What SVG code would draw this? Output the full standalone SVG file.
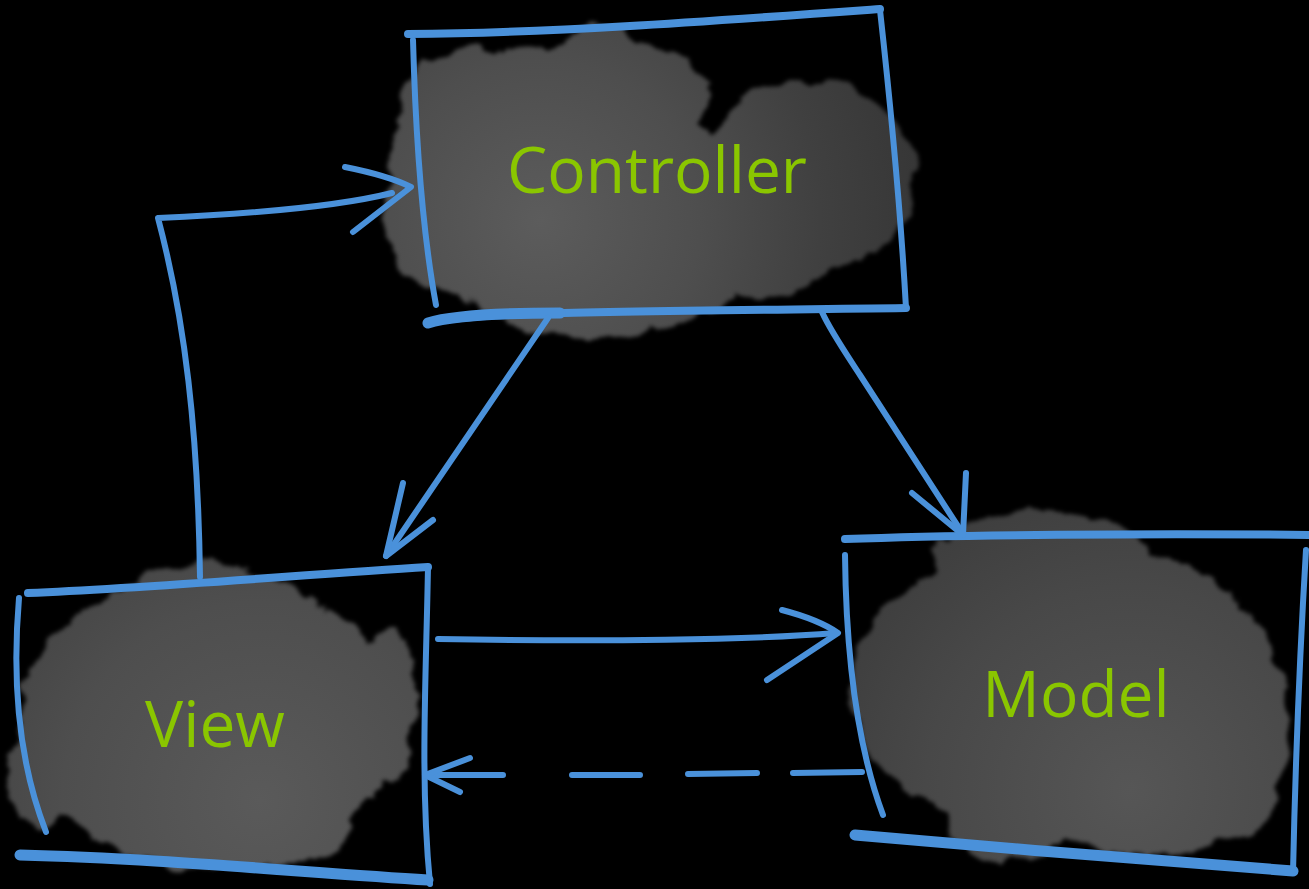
<svg xmlns="http://www.w3.org/2000/svg" width="1309" height="889" viewBox="0 0 1309 889">
  <defs>
    <style>
      .ink { fill: none; stroke: #4a91da; stroke-linecap: round; stroke-linejoin: round; }
      .thin { stroke-width: 6; }
      .mid { stroke-width: 8; }
      .thick { stroke-width: 11; }
      .label { font-family: "Open Sans", "Noto Sans", "Liberation Sans", sans-serif; font-size: 64px; fill: #8ac600; text-anchor: middle; }
      .puff { fill: #fff; }
    </style>
    <!-- ragged, watercolour-like edge for the cloud blobs -->
    <filter id="rough" x="-10%" y="-15%" width="120%" height="130%">
      <feTurbulence type="fractalNoise" baseFrequency="0.035" numOctaves="4" seed="7" result="noise"/>
      <feDisplacementMap in="SourceGraphic" in2="noise" scale="22" xChannelSelector="R" yChannelSelector="G" result="disp"/>
      <feGaussianBlur in="disp" stdDeviation="2.2"/>
    </filter>
    <radialGradient id="gCtrl" gradientUnits="userSpaceOnUse" cx="540" cy="220" r="400">
      <stop offset="0" stop-color="#5c5c5c"/>
      <stop offset="0.4" stop-color="#4e4e4e"/>
      <stop offset="0.7" stop-color="#404040"/>
      <stop offset="1" stop-color="#353535"/>
    </radialGradient>
    <radialGradient id="gView" gradientUnits="userSpaceOnUse" cx="260" cy="800" r="330">
      <stop offset="0" stop-color="#5a5a5a"/>
      <stop offset="0.6" stop-color="#4e4e4e"/>
      <stop offset="1" stop-color="#414141"/>
    </radialGradient>
    <radialGradient id="gModel" gradientUnits="userSpaceOnUse" cx="1130" cy="790" r="340">
      <stop offset="0" stop-color="#565656"/>
      <stop offset="0.6" stop-color="#484848"/>
      <stop offset="1" stop-color="#3c3c3c"/>
    </radialGradient>

    <mask id="mCtrl" maskUnits="userSpaceOnUse" x="340" y="0" width="620" height="380">
      <g filter="url(#rough)" class="puff">
        <ellipse cx="555" cy="185" rx="165" ry="140"/>
        <ellipse cx="620" cy="95" rx="90" ry="55"/>
        <ellipse cx="600" cy="70" rx="45" ry="45"/>
        <ellipse cx="470" cy="105" rx="70" ry="55"/>
        <ellipse cx="600" cy="290" rx="130" ry="45"/>
        <ellipse cx="425" cy="200" rx="40" ry="90"/>
        <ellipse cx="810" cy="175" rx="105" ry="95"/>
        <ellipse cx="760" cy="255" rx="75" ry="42"/>
        <ellipse cx="712" cy="205" rx="45" ry="70"/>
      </g>
    </mask>
    <mask id="mView" maskUnits="userSpaceOnUse" x="-30" y="520" width="480" height="380">
      <g filter="url(#rough)" class="puff">
        <ellipse cx="210" cy="720" rx="190" ry="145"/>
        <ellipse cx="390" cy="705" rx="25" ry="80"/>
        <ellipse cx="230" cy="828" rx="120" ry="43"/>
        <ellipse cx="40" cy="780" rx="35" ry="45"/>
        <ellipse cx="200" cy="600" rx="80" ry="35"/>
      </g>
    </mask>
    <mask id="mModel" maskUnits="userSpaceOnUse" x="800" y="470" width="520" height="420">
      <g filter="url(#rough)" class="puff">
        <ellipse cx="1065" cy="690" rx="215" ry="150"/>
        <ellipse cx="1040" cy="560" rx="110" ry="45"/>
        <ellipse cx="1040" cy="528" rx="35" ry="20"/>
        <ellipse cx="1150" cy="800" rx="130" ry="55"/>
        <ellipse cx="1010" cy="828" rx="60" ry="33"/>
        <ellipse cx="1262" cy="720" rx="28" ry="70"/>
      </g>
    </mask>
  </defs>

  <rect width="1309" height="889" fill="#000"/>

  <!-- Controller node -->
  <g id="controller">
    <rect x="340" y="0" width="620" height="380" fill="url(#gCtrl)" mask="url(#mCtrl)"/>
    <path class="ink mid" d="M408,34 C550,33 700,22 880,9"/>
    <path class="ink thin" d="M880,10 C890,100 900,200 906,308"/>
    <path class="ink thin" d="M413,40 C416,150 424,240 436,305"/>
    <path class="ink mid" d="M428,323 C470,312 600,312 906,308"/>
    <path class="ink thick" d="M428,323 C450,316 500,313 560,313"/>
    <text class="label" x="657" y="193">Controller</text>
  </g>

  <!-- View node -->
  <g id="view">
    <rect x="-30" y="520" width="480" height="380" fill="url(#gView)" mask="url(#mView)"/>
    <path class="ink mid" d="M28,593 C150,588 300,575 428,567"/>
    <path class="ink thin" d="M428,567 C426,680 420,780 430,884"/>
    <path class="ink thin" d="M19,598 C12,680 18,760 46,832"/>
    <path class="ink thick" d="M20,855 C150,858 300,872 428,880"/>
    <text class="label" x="215" y="747">View</text>
  </g>

  <!-- Model node -->
  <g id="model">
    <rect x="800" y="470" width="520" height="420" fill="url(#gModel)" mask="url(#mModel)"/>
    <path class="ink mid" d="M845,539 C950,535 1150,533 1312,535"/>
    <path class="ink thin" d="M1306,550 C1300,650 1295,780 1293,873"/>
    <path class="ink thin" d="M845,555 C846,650 855,740 883,815"/>
    <path class="ink thick" d="M855,835 C1000,848 1150,860 1293,871"/>
    <text class="label" x="1076" y="717">Model</text>
  </g>

  <!-- Connectors -->
  <g id="connectors">
    <!-- View to Controller -->
    <path class="ink thin" d="M200,577 C198,430 185,320 158,218 C250,214 340,206 392,193"/>
    <path class="ink thin" d="M345,167 C375,173 395,179 411,187 L353,232"/>
    <!-- Controller to View -->
    <path class="ink thin" d="M548,318 L386,556"/>
    <path class="ink thin" d="M403,483 L386,556 L433,520"/>
    <!-- Controller to Model -->
    <path class="ink thin" d="M822,312 C830,330 845,352 860,375 L963,534"/>
    <path class="ink thin" d="M966,473 L963,535 L912,493"/>
    <!-- View to Model -->
    <path class="ink thin" d="M438,639 C600,642 750,640 836,633"/>
    <path class="ink thin" d="M782,610 C805,616 825,624 838,633 L767,680"/>
    <!-- Model to View (dashed) -->
    <path class="ink thin" d="M862,772 L793,773 M757,773 L688,774 M640,775 L572,775 M503,775 L427,775"/>
    <path class="ink thin" d="M470,758 L425,775 L460,792"/>
  </g>
</svg>
